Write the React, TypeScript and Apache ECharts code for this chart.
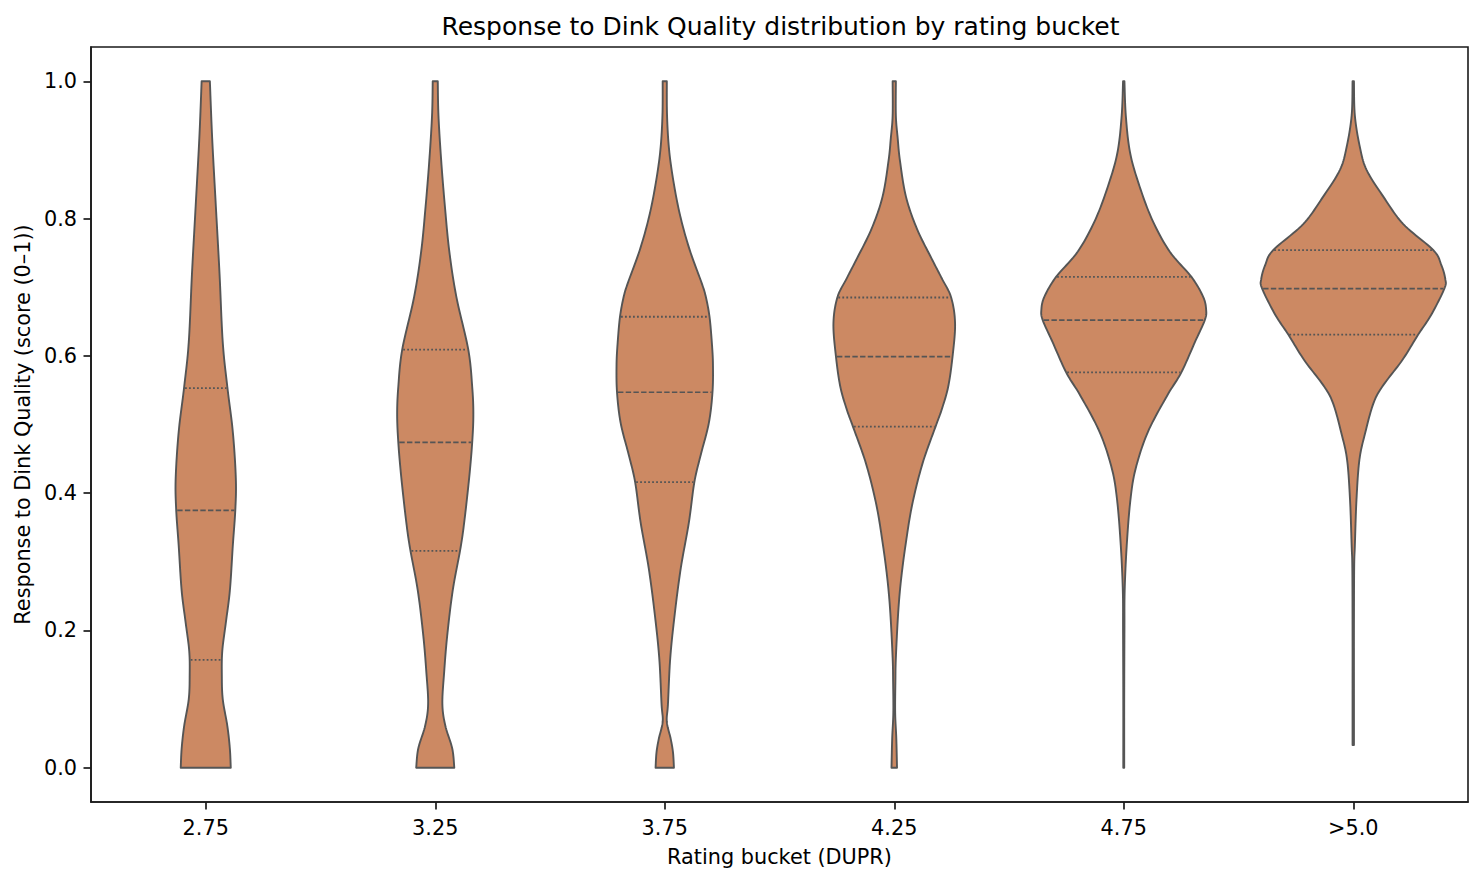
import React, { useEffect, useRef } from "react";
import * as echarts from "echarts";

const FONT = "DejaVu Sans";

const categories = ["2.75", "3.25", "3.75", "4.25", "4.75", ">5.0"];
const yTicks = [0, 0.2, 0.4, 0.6, 0.8, 1.0];

// Violin outlines: score levels and half-widths (fraction of the category width)
const levels275 = [0, 0.028, 0.061, 0.1, 0.135, 0.17, 0.21, 0.258, 0.324, 0.377, 0.422, 0.489, 0.555, 0.62, 0.72, 0.818, 0.917, 1.0];
const widths275 = [0.109, 0.105, 0.094, 0.074, 0.07, 0.072, 0.087, 0.105, 0.118, 0.129, 0.131, 0.118, 0.094, 0.074, 0.06, 0.044, 0.028, 0.018];

const levels325 = [0, 0.028, 0.061, 0.093, 0.14, 0.192, 0.258, 0.318, 0.357, 0.423, 0.474, 0.515, 0.555, 0.609, 0.686, 0.753, 0.818, 0.884, 0.95, 1.0];
const widths325 = [0.083, 0.074, 0.044, 0.031, 0.039, 0.052, 0.076, 0.109, 0.126, 0.148, 0.161, 0.166, 0.161, 0.144, 0.092, 0.061, 0.042, 0.026, 0.014, 0.011];

const levels375 = [0, 0.022, 0.042, 0.067, 0.093, 0.16, 0.225, 0.291, 0.357, 0.416, 0.456, 0.502, 0.547, 0.588, 0.62, 0.657, 0.686, 0.706, 0.754, 0.803, 0.852, 0.9, 0.95, 1.0];
const widths375 = [0.04, 0.036, 0.026, 0.009, 0.014, 0.024, 0.044, 0.07, 0.105, 0.129, 0.157, 0.192, 0.208, 0.21, 0.205, 0.195, 0.179, 0.161, 0.109, 0.068, 0.039, 0.019, 0.01, 0.009];

const levels425 = [0, 0.042, 0.08, 0.126, 0.16, 0.225, 0.272, 0.324, 0.383, 0.443, 0.497, 0.522, 0.555, 0.599, 0.647, 0.685, 0.713, 0.739, 0.785, 0.832, 0.884, 0.917, 0.95, 1.0];
const widths425 = [0.012, 0.009, 0.004, 0.005, 0.007, 0.017, 0.029, 0.049, 0.078, 0.123, 0.18, 0.207, 0.235, 0.254, 0.265, 0.248, 0.207, 0.167, 0.099, 0.051, 0.025, 0.015, 0.007, 0.007];

const levels475 = [0, 0.1, 0.2, 0.258, 0.324, 0.39, 0.436, 0.489, 0.542, 0.576, 0.62, 0.652, 0.667, 0.686, 0.715, 0.752, 0.799, 0.851, 0.897, 0.95, 1.0];
const widths475 = [0.002, 0.002, 0.003, 0.004, 0.013, 0.029, 0.052, 0.105, 0.189, 0.251, 0.31, 0.353, 0.359, 0.346, 0.295, 0.2, 0.123, 0.065, 0.027, 0.009, 0.003];

const levels500 = [0.033, 0.1, 0.2, 0.291, 0.324, 0.39, 0.449, 0.489, 0.53, 0.555, 0.594, 0.631, 0.66, 0.698, 0.712, 0.733, 0.754, 0.792, 0.832, 0.871, 0.904, 0.95, 1.0];
const widths500 = [0.003, 0.003, 0.003, 0.004, 0.007, 0.014, 0.027, 0.053, 0.087, 0.126, 0.214, 0.283, 0.34, 0.397, 0.401, 0.383, 0.349, 0.218, 0.131, 0.058, 0.029, 0.007, 0.003];

// Quartiles: [Q1, median, Q3]
const quartiles275 = [0.157, 0.375, 0.553];
const quartiles325 = [0.316, 0.474, 0.609];
const quartiles375 = [0.416, 0.547, 0.657];
const quartiles425 = [0.497, 0.599, 0.685];
const quartiles475 = [0.576, 0.652, 0.715];
const quartiles500 = [0.631, 0.698, 0.754];

const allLevels = [levels275, levels325, levels375, levels425, levels475, levels500];
const allWidths = [widths275, widths325, widths375, widths425, widths475, widths500];
const allQuartiles = [quartiles275, quartiles325, quartiles375, quartiles425, quartiles475, quartiles500];

const FILL = "#cc8963";
const EDGE = "#555555";
const AXIS = "#1a1a1a";

function catmullRom(pts: number[][], steps: number): number[][] {
  const out: number[][] = [];
  const n = pts.length;
  for (let i = 0; i < n - 1; i++) {
    const p0 = pts[Math.max(i - 1, 0)];
    const p1 = pts[i];
    const p2 = pts[i + 1];
    const p3 = pts[Math.min(i + 2, n - 1)];
    for (let s = 0; s < steps; s++) {
      const t = s / steps;
      const t2 = t * t;
      const t3 = t2 * t;
      const f = (a: number, b: number, c: number, d: number) =>
        0.5 * (2 * b + (-a + c) * t + (2 * a - 5 * b + 4 * c - d) * t2 + (-a + 3 * b - 3 * c + d) * t3);
      out.push([Math.max(0.3, f(p0[0], p1[0], p2[0], p3[0])), f(p0[1], p1[1], p2[1], p3[1])]);
    }
  }
  out.push([Math.max(0.3, pts[n - 1][0]), pts[n - 1][1]]);
  return out;
}

function widthAt(dense: number[][], py: number): number {
  for (let i = 0; i < dense.length - 1; i++) {
    const a = dense[i];
    const b = dense[i + 1];
    if ((py <= a[1] && py >= b[1]) || (py >= a[1] && py <= b[1])) {
      const t = b[1] === a[1] ? 0 : (py - a[1]) / (b[1] - a[1]);
      return a[0] + (b[0] - a[0]) * t;
    }
  }
  return 0;
}

function renderItem(params: any, api: any) {
  const idx = api.value(0);
  const levels = allLevels[idx];
  const widths = allWidths[idx];
  const quarts = allQuartiles[idx];
  const band = api.size([1, 0])[0];
  const cx = api.coord([idx, 0])[0];
  const raw = levels.map((lv: number, i: number) => [widths[i] * band, api.coord([idx, lv])[1]]);
  const dense = catmullRom(raw, 12);
  const right = dense.map((p) => [cx + p[0], p[1]]);
  const left = dense.slice().reverse().map((p) => [cx - p[0], p[1]]);
  const children: any[] = [
    {
      type: "polygon",
      shape: { points: right.concat(left) },
      style: { fill: FILL, stroke: EDGE, lineWidth: 1.9, lineJoin: "round" },
    },
  ];
  quarts.forEach((q: number, k: number) => {
    const py = api.coord([idx, q])[1];
    const hw = Math.max(0, widthAt(dense, py) - 1);
    children.push({
      type: "line",
      shape: { x1: cx - hw, y1: py, x2: cx + hw, y2: py },
      style: {
        stroke: EDGE,
        lineWidth: k === 1 ? 1.7 : 1.8,
        lineDash: k === 1 ? [5.4, 2.3] : [1.8, 2.2],
      },
    });
  });
  return { type: "group", children };
}

export default function App() {
  const ref = useRef<HTMLDivElement>(null);
  useEffect(() => {
    if (!ref.current) return;
    const chart = echarts.init(ref.current, undefined, { renderer: "svg" });
    const textStyle = { fontFamily: FONT, fontSize: 20.8, color: "#000" };
    chart.setOption({
      animation: false,
      backgroundColor: "#fff",
      title: {
        text: "Response to Dink Quality distribution by rating bucket",
        left: 775.5,
        textAlign: "center",
        top: 9,
        textStyle: { fontFamily: FONT, fontSize: 25, fontWeight: "normal", color: "#000" },
      },
      grid: {
        left: 91,
        right: 16,
        top: 47,
        bottom: 79,
        show: true,
        borderColor: AXIS,
        borderWidth: 1.6,
        backgroundColor: "transparent",
      },
      xAxis: {
        type: "category",
        data: categories,
        boundaryGap: true,
        name: "Rating bucket (DUPR)",
        nameLocation: "middle",
        nameGap: 44,
        nameTextStyle: textStyle,
        axisLine: { show: true, onZero: false, lineStyle: { color: AXIS, width: 1.6 } },
        axisTick: { show: true, alignWithLabel: true, length: 7.5, lineStyle: { color: AXIS, width: 1.7 } },
        axisLabel: { ...textStyle, margin: 15 },
        splitLine: { show: false },
      },
      yAxis: {
        type: "value",
        min: -0.05,
        max: 1.05,
        name: "Response to Dink Quality (score (0–1))",
        nameLocation: "middle",
        nameGap: 58,
        nameRotate: 90,
        nameTextStyle: textStyle,
        axisLine: { show: true, onZero: false, lineStyle: { color: AXIS, width: 1.6 } },
        axisTick: { show: true, length: 7.5, customValues: yTicks, lineStyle: { color: AXIS, width: 1.7 } },
        axisLabel: {
          ...textStyle,
          margin: 14,
          customValues: yTicks,
          formatter: (v: number) => v.toFixed(1),
        },
        splitLine: { show: false },
      },
      series: [
        {
          type: "custom",
          renderItem,
          clip: false,
          encode: { x: 0, y: 1 },
          data: categories.map((c, i) => [i, 0]),
        },
      ],
    });
    return () => chart.dispose();
  }, []);
  return (
    <div
      ref={ref}
      style={{ position: "absolute", left: 0, top: 0, width: 1484, height: 881 }}
    />
  );
}
